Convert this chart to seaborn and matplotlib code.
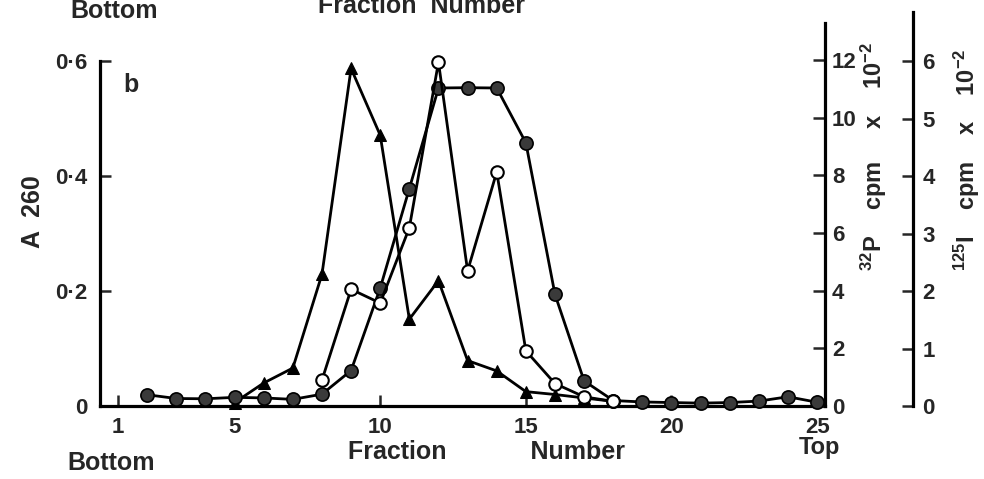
import numpy as np
import pandas as pd
import seaborn as sns
import matplotlib.pyplot as plt

# values
frac_a260 = [5, 6, 7, 8, 9, 10, 11, 12, 13, 14, 15, 16, 17, 18]
a260 = [0.006, 0.040, 0.066, 0.229, 0.587, 0.471, 0.151, 0.218, 0.079, 0.061,
        0.025, 0.020, 0.014, 0.008]

frac_p32 = list(range(2, 26))
p32 = [0.39, 0.26, 0.25, 0.30, 0.28, 0.23, 0.41, 1.23, 4.09, 7.54, 11.03, 11.04,
       11.03, 9.13, 3.87, 0.87, 0.19, 0.14, 0.12, 0.10, 0.12, 0.17, 0.32, 0.13]

frac_i125 = [8, 9, 10, 11, 12, 13, 14, 15, 16, 17, 18]
i125 = [0.45, 2.03, 1.79, 3.10, 5.98, 2.35, 4.07, 0.96, 0.39, 0.16, 0.08]

x_ticks = [1, 5, 10, 15, 20, 25]
a260_ticks = [0, 0.2, 0.4, 0.6]
a260_labels = ['0', '0·2', '0·4', '0·6']
p32_ticks = [0, 2, 4, 6, 8, 10, 12]
i125_ticks = [0, 1, 2, 3, 4, 5, 6]

sns.set_style('ticks')
plt.rcParams['font.family'] = ['Liberation Sans', 'DejaVu Sans']
plt.rcParams['font.weight'] = 'bold'
plt.rcParams['axes.labelweight'] = 'bold'
plt.rcParams['mathtext.fontset'] = 'custom'
plt.rcParams['mathtext.rm'] = 'Liberation Sans:bold'
plt.rcParams['mathtext.it'] = 'Liberation Sans:bold'
plt.rcParams['mathtext.bf'] = 'Liberation Sans:bold'

fs = 16
fig = plt.figure(figsize=(9.84, 4.79), dpi=100)
ax = fig.add_axes([100/984, 73/479, 725/984, 396/479])
ax2 = ax.twinx()
ax3 = ax.twinx()

sns.lineplot(x=frac_a260, y=a260, ax=ax, color='black', lw=2.0, marker='^',
             markersize=8, markerfacecolor='black', markeredgecolor='black',
             clip_on=False)
sns.lineplot(x=frac_i125, y=i125, ax=ax3, color='black', lw=2.0, marker='o',
             markersize=9, markerfacecolor='white', markeredgecolor='black',
             markeredgewidth=1.5, clip_on=False)
sns.lineplot(x=frac_p32, y=p32, ax=ax2, color='black', lw=2.0, marker='o',
             markersize=9.5, markerfacecolor='#3a3a3a', markeredgecolor='black',
             markeredgewidth=1.2, clip_on=False)

ax.set_xlim(0.38, 25.27)
ax.set_ylim(0, 0.6887)
ax2.set_ylim(0, 13.735)
ax3.set_ylim(0, 6.887)

for a in (ax, ax2, ax3):
    for s in a.spines.values():
        s.set_visible(False)
        s.set_linewidth(2.3)
        s.set_color('black')

ax.spines['left'].set_visible(True)
ax.spines['left'].set_bounds(0, 0.6)
ax.spines['bottom'].set_visible(True)
ax2.spines['right'].set_visible(True)
ax2.spines['right'].set_bounds(0, 13.3)
ax3.spines['right'].set_visible(True)
ax3.spines['right'].set_position(('axes', 1.121))
ax3.spines['right'].set_bounds(0, 6.85)

ax.set_xticks(x_ticks)
ax.set_xticklabels([str(t) for t in x_ticks])
ax.set_yticks(a260_ticks)
ax.set_yticklabels(a260_labels)
ax2.set_yticks(p32_ticks)
ax3.set_yticks(i125_ticks)

ax.tick_params(axis='x', direction='in', length=8, width=1.8, labelsize=fs, pad=8)
ax.tick_params(axis='y', direction='in', length=8, width=1.8, labelsize=fs, pad=9)
ax2.tick_params(axis='y', direction='in', length=9, width=1.8, labelsize=fs, pad=5)
ax3.tick_params(axis='y', direction='in', length=8, width=1.8, labelsize=fs, pad=7)

ax.set_xlabel('Fraction            Number', fontsize=18)
ax.xaxis.set_label_coords(0.533, -0.116)
ax.xaxis.label.set_va('center')

ax.set_ylabel('A  260', fontsize=18)
ax.yaxis.set_label_coords(-0.0924, 0.49)
ax.yaxis.label.set_va('center')
ax.yaxis.label.set_ha('center')

ax2.set_ylabel(r'$^{32}$P    cpm     x    10$^{-2}$', fontsize=17)
ax2.yaxis.set_label_coords(1.068, 0.631)
ax2.yaxis.label.set_va('center')
ax2.yaxis.label.set_ha('center')
ax2.yaxis.label.set_rotation(90)

ax3.set_ylabel(r'$^{125}$I    cpm    x    10$^{-2}$', fontsize=17)
ax3.yaxis.set_label_coords(1.196, 0.621)
ax3.yaxis.label.set_va('center')
ax3.yaxis.label.set_ha('center')
ax3.yaxis.label.set_rotation(90)

ax.text(0.0428, 0.811, 'b', transform=ax.transAxes, fontsize=18,
        ha='center', va='center')
ax.text(0.015, -0.144, 'Bottom', transform=ax.transAxes, fontsize=18,
        ha='center', va='center')
ax.text(0.9917, -0.105, 'Top', transform=ax.transAxes, fontsize=17,
        ha='center', va='center')

# bits of the neighbouring panel cut off at the top of the scan
fig.text(114/984, 1 - 11/479, 'Bottom', fontsize=18, ha='center', va='center')
fig.text(318/984, 1 - 13/479, 'Fraction  Number', fontsize=18,
         ha='left', va='baseline')

fig.savefig('out.png', dpi=100)
